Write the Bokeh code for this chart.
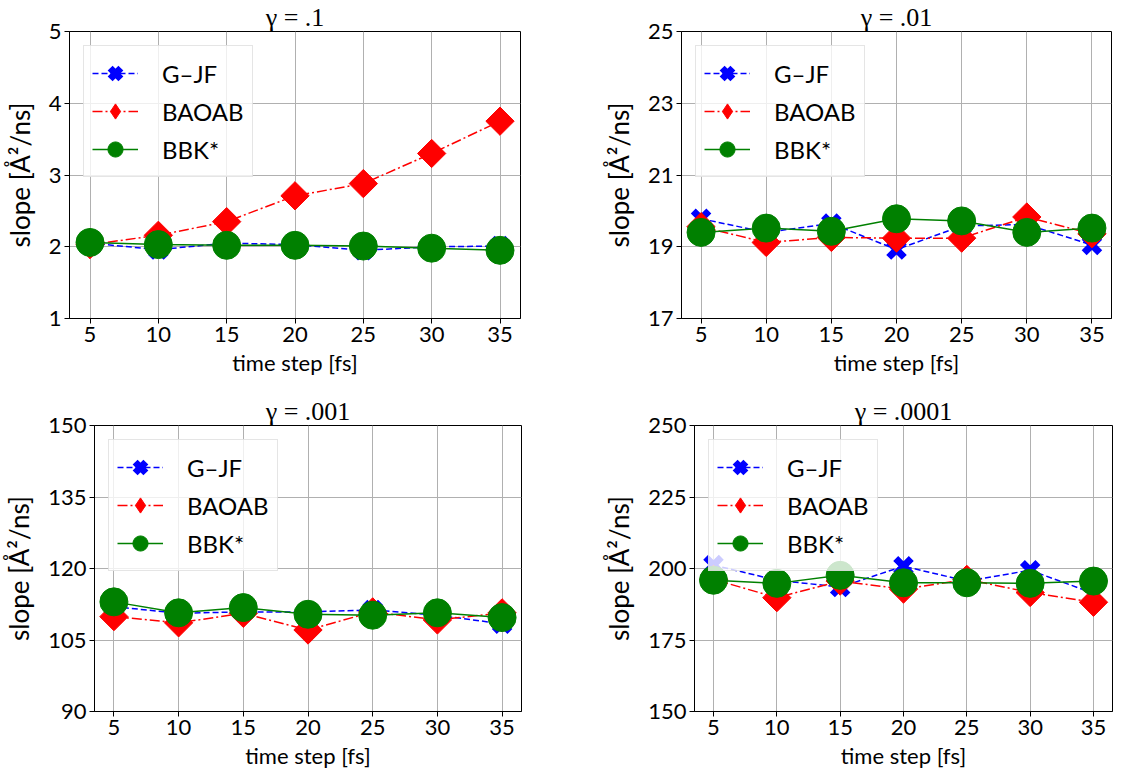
import math
from bokeh.plotting import figure
from bokeh.layouts import column, row
from bokeh.models import Range1d, FixedTicker, Legend, LegendItem
from bokeh.embed import file_html
from bokeh.resources import INLINE

time_step = [5, 10, 15, 20, 25, 30, 35]
x_ticks = [5, 10, 15, 20, 25, 30, 35]

titles = ["γ = .1", "γ = .01", "γ = .001", "γ = .0001"]

gjf_g1 = [2.05, 1.96, 2.05, 2.03, 1.95, 2.00, 2.01]
baoab_g1 = [2.03, 2.16, 2.35, 2.71, 2.88, 3.30, 3.75]
bbk_g1 = [2.06, 2.03, 2.02, 2.02, 2.01, 1.98, 1.95]

gjf_g2 = [19.78, 19.40, 19.65, 18.92, 19.58, 19.62, 19.05]
baoab_g2 = [19.56, 19.12, 19.26, 19.24, 19.24, 19.83, 19.36]
bbk_g2 = [19.40, 19.52, 19.43, 19.78, 19.72, 19.40, 19.52]

gjf_g3 = [112.0, 110.6, 110.9, 110.9, 111.3, 110.2, 108.4]
baoab_g3 = [109.9, 108.6, 110.6, 107.1, 110.9, 109.2, 110.7]
bbk_g3 = [113.0, 110.7, 111.8, 110.4, 110.2, 110.7, 109.7]

gjf_g4 = [201.2, 195.9, 193.5, 200.8, 195.6, 199.4, 191.3]
baoab_g4 = [196.2, 189.8, 195.6, 192.8, 196.2, 191.6, 188.2]
bbk_g4 = [195.9, 194.8, 197.6, 195.0, 195.0, 194.8, 195.6]

y_ticks = [[1, 2, 3, 4, 5], [17, 19, 21, 23, 25], [90, 105, 120, 135, 150], [150, 175, 200, 225, 250]]
y_ranges = [(1, 5), (17, 25), (90, 150), (150, 250)]

series = [
    (gjf_g1, baoab_g1, bbk_g1),
    (gjf_g2, baoab_g2, bbk_g2),
    (gjf_g3, baoab_g3, bbk_g3),
    (gjf_g4, baoab_g4, bbk_g4),
]

# layout: (left border, frame width, right border, top border, frame height, bottom border)
geom = [
    (66, 451, 23, 20, 287, 76),
    (138, 430, 1, 20, 287, 76),
    (90, 427, 23, 20, 286, 58),
    (150, 418, 1, 20, 286, 58),
]

SANS = "Lato"
figs = []
for i in range(4):
    lb, fw, rb, tb, fh, bb = geom[i]
    p = figure(frame_width=fw, frame_height=fh,
               min_border_left=lb, min_border_right=rb,
               min_border_top=tb, min_border_bottom=bb,
               x_range=Range1d(3.5, 36.5), y_range=Range1d(*y_ranges[i]),
               toolbar_location=None, output_backend="svg", title=titles[i])
    p.title.align = "center"
    p.title.text_font = "Liberation Serif"
    p.title.text_font_size = "26px"
    p.title.text_font_style = "normal"
    p.title.text_color = "black"
    p.title.text_line_height = 0.75
    p.title.standoff = 0
    p.title.offset = 0

    gjf, baoab, bbk = series[i]
    l1 = p.line(time_step, gjf, line_color="blue", line_width=1.5, line_dash="6 3")
    s1 = p.scatter(time_step, gjf, marker="x", size=22, line_color="blue", line_width=7)
    l2 = p.line(time_step, baoab, line_color="red", line_width=1.5, line_dash="10 3 2 3")
    # diamond glyph lying fully inside the rotated square; it supplies the legend's diamond
    s2_leg = p.scatter(time_step, baoab, marker="diamond", size=26, fill_color="red", line_color="red")
    s2 = p.scatter(time_step, baoab, marker="square", size=20, angle=math.pi / 4,
                   fill_color="red", line_color="red")
    l3 = p.line(time_step, bbk, line_color="green", line_width=1.5)
    s3 = p.scatter(time_step, bbk, marker="circle", size=28, fill_color="green", line_color="green")

    lg = Legend(items=[
        LegendItem(label="G–JF", renderers=[l1, s1]),
        LegendItem(label="BAOAB", renderers=[l2, s2_leg]),
        LegendItem(label="BBK*", renderers=[l3, s3]),
    ])
    lg.location = "top_left"
    lg.margin = 14
    lg.padding = 8
    lg.spacing = 0
    lg.glyph_width = 46
    lg.glyph_height = 38
    lg.label_height = 20
    lg.label_standoff = 24
    lg.label_text_font = SANS
    lg.label_text_font_size = "24px"
    lg.label_text_color = "black"
    lg.border_line_color = "#cccccc"
    lg.border_line_width = 1
    lg.background_fill_alpha = 0.8
    p.add_layout(lg, "center")

    p.xaxis.ticker = FixedTicker(ticks=x_ticks)
    p.yaxis.ticker = FixedTicker(ticks=y_ticks[i])
    p.xaxis.axis_label = "time step [fs]"
    p.yaxis.axis_label = "slope [Å²/ns]"
    for ax in (p.xaxis, p.yaxis):
        ax.major_label_text_font = SANS
        ax.major_label_text_font_size = "22px"
        ax.major_label_text_color = "black"
        ax.axis_label_text_font = SANS
        ax.axis_label_text_font_style = "normal"
        ax.axis_label_text_color = "black"
        ax.axis_line_color = "black"
        ax.major_tick_line_color = "black"
        ax.major_tick_out = 5
        ax.major_tick_in = 0
        ax.minor_tick_line_color = None
        ax.major_label_standoff = 3
    p.xaxis.axis_label_text_font_size = "22px"
    p.yaxis.axis_label_text_font_size = "26px"
    p.xaxis.axis_label_standoff = 4
    p.yaxis.axis_label_standoff = 10

    p.grid.grid_line_color = "#b0b0b0"
    p.grid.grid_line_width = 1
    p.outline_line_color = "black"
    p.outline_line_width = 1
    p.background_fill_color = "white"
    p.border_fill_color = "white"
    figs.append(p)

layout = column(row(figs[0], figs[1]), row(figs[2], figs[3]))
open("out.html", "w").write(file_html(layout, INLINE))
